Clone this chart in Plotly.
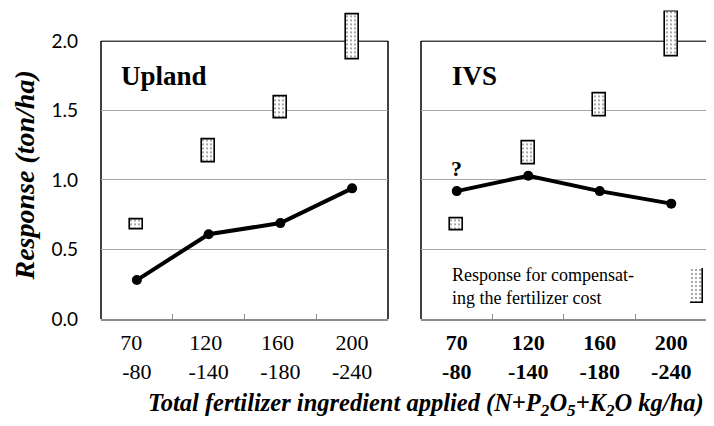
import plotly.graph_objects as go

# ---- data ----
categories = ["70-80", "120-140", "160-180", "200-240"]
tick_left = ["70\u00a0\u00a0<br>-80", "120\u00a0<br>-140", "160\u00a0<br>-180", "200<br>-240"]
tick_right = ["70<br>-80", "120<br>-140", "160<br>-180", "200<br>-240"]

upland_response = [0.28, 0.61, 0.69, 0.94]
ivs_response = [0.92, 1.03, 0.92, 0.83]

# response needed to compensate the fertilizer cost (low / high end of range)
upland_cost_low = [0.645, 1.13, 1.446, 1.87]
upland_cost_high = [0.72, 1.29, 1.60, 2.19]
ivs_cost_low = [0.64, 1.115, 1.455, 1.887]
ivs_cost_high = [0.724, 1.275, 1.62, 2.21]

y_ticks = [0.0, 0.5, 1.0, 1.5, 2.0]
y_top = 2.0      # top of the framed plot area
y_room = 2.22    # axis range allows boxes to poke above the frame

SERIF = "Liberation Serif, Times New Roman, serif"
SANS = "Lato, Carlito, Calibri, sans-serif"

fig = go.Figure()

pattern = dict(shape=".", size=4, solidity=0.16, fgcolor="black", bgcolor="white", fillmode="overlay")


def add_panel(resp, low, high, xa, ya):
    fig.add_trace(go.Bar(
        x=categories, y=[h - l for h, l in zip(high, low)], base=low,
        width=0.18, xaxis=xa, yaxis=ya,
        marker=dict(color="white", line=dict(color="black", width=1.6), pattern=pattern),
        showlegend=False, hoverinfo="skip"))
    fig.add_trace(go.Scatter(
        x=categories, y=resp, xaxis=xa, yaxis=ya, mode="lines+markers",
        line=dict(color="black", width=4), marker=dict(color="black", size=10),
        showlegend=False, cliponaxis=False))


add_panel(upland_response, upland_cost_low, upland_cost_high, "x", "y")
add_panel(ivs_response, ivs_cost_low, ivs_cost_high, "x2", "y2")

# legend swatch (own tiny subplot)
fig.add_trace(go.Bar(
    x=[0], y=[1], width=1, xaxis="x3", yaxis="y3",
    marker=dict(color="white", line=dict(color="black", width=1.6), pattern=pattern),
    showlegend=False, hoverinfo="skip"))

# page is offset by the 8px body margin; layout compensates for it
ydom = [0.26995, 0.99432]
xdom1 = [0.13025, 0.53221]
xdom2 = [0.57843, 0.97899]

common_x = dict(type="category", categoryorder="array", categoryarray=categories,
                range=[-0.5, 3.5], showgrid=False, showline=True, linecolor="#8c8c8c",
                linewidth=1.5, ticks="inside", ticklen=5, tickcolor="#8c8c8c",
                tickson="boundaries", tickvals=categories, ticklabelstandoff=3,
                zeroline=False, fixedrange=True, automargin=False)
common_y = dict(range=[0, y_room], tickvals=y_ticks, showgrid=True, gridcolor="#a6a6a6",
                gridwidth=1.2, zeroline=False, showline=False,
                ticks="", fixedrange=True, automargin=False)


def frame(xd, yr):
    line = dict(color="black", width=1.5)
    return [
        dict(type="line", xref=xd, yref=yr, x0=0, x1=1, y0=y_top, y1=y_top, line=line, layer="below"),
        dict(type="line", xref=xd, yref=yr, x0=0, x1=0, y0=0, y1=y_top, line=line, layer="below"),
        dict(type="line", xref=xd, yref=yr, x0=1, x1=1, y0=0, y1=y_top, line=line, layer="below"),
    ]


fig.update_layout(
    width=714, height=426, autosize=False,
    margin=dict(l=0, r=0, t=0, b=0, pad=0, autoexpand=False),
    paper_bgcolor="white", plot_bgcolor="white",
    bargap=0,
    xaxis=dict(domain=xdom1, anchor="y", ticktext=tick_left,
               tickfont=dict(family=SERIF, size=22, color="black"), **common_x),
    xaxis2=dict(domain=xdom2, anchor="y2", ticktext=tick_right,
                tickfont=dict(family=SERIF, size=22, color="black", weight="bold"), **common_x),
    yaxis=dict(domain=ydom, anchor="x", ticktext=[f"{v:.1f}" for v in y_ticks],
               tickfont=dict(family=SANS, size=19, color="black"), ticklabelstandoff=22,
               **common_y),
    yaxis2=dict(domain=ydom, anchor="x2", showticklabels=False, **common_y),
    xaxis3=dict(domain=[0.95518, 0.97339], anchor="y3", range=[-0.5, 0.5], visible=False,
                fixedrange=True, automargin=False),
    yaxis3=dict(domain=[0.30751, 0.38967], anchor="x3", range=[0, 1], visible=False,
                fixedrange=True, automargin=False),
    shapes=frame("x domain", "y") + frame("x2 domain", "y2"),
    annotations=[
        dict(text="<b><i>Response (ton/ha)</i></b>", xref="paper", yref="paper",
             x=0.0231, y=0.608, textangle=-90, xanchor="center", yanchor="middle",
             showarrow=False, font=dict(family=SERIF, size=28, color="black")),
        dict(text="<b>Upland</b>", xref="paper", yref="paper", x=0.1555, y=0.8404,
             xanchor="left", yanchor="middle", showarrow=False,
             font=dict(family=SERIF, size=27, color="black")),
        dict(text="<b>IVS</b>", xref="paper", yref="paper", x=0.6195, y=0.8404,
             xanchor="left", yanchor="middle", showarrow=False,
             font=dict(family=SERIF, size=27, color="black")),
        dict(text="<b>?</b>", xref="x2", yref="y2", x=categories[0], y=ivs_response[0],
             xanchor="center", yanchor="bottom", yshift=8, showarrow=False,
             font=dict(family=SERIF, size=22, color="black")),
        dict(text="Response for compensat-<br>ing the fertilizer cost", xref="paper", yref="paper",
             x=0.6185, y=0.3462, xanchor="left", yanchor="middle", align="left", showarrow=False,
             font=dict(family=SERIF, size=18, color="black")),
        dict(text="<b><i>Total fertilizer ingredient applied (N+P<sub>2</sub>O<sub>5</sub>+K<sub>2</sub>O kg/ha)</i></b>",
             xref="paper", yref="paper", x=0.5855, y=0.0700,
             xanchor="center", yanchor="middle", showarrow=False,
             font=dict(family=SERIF, size=24.5, color="black")),
    ],
)

fig.write_html("out.html")
